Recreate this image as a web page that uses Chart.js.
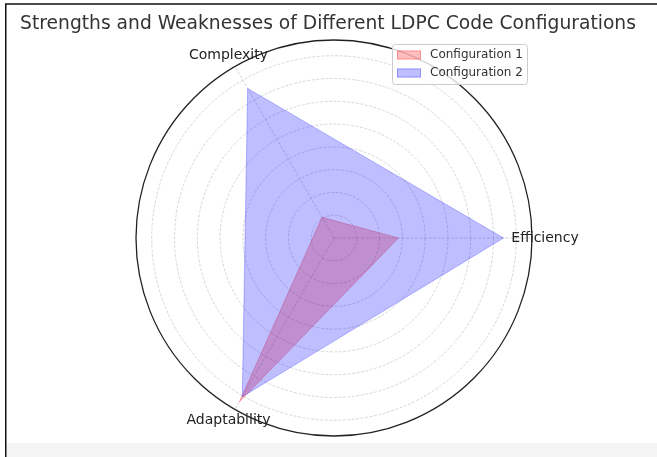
<!DOCTYPE html>
<html>
<head>
<meta charset="utf-8">
<script src="https://cdn.jsdelivr.net/npm/chart.js@4/dist/chart.umd.min.js"></script>
<style>
  html, body { margin: 0; padding: 0; background: #ffffff; }
  canvas { display: block; }
</style>
</head>
<body>
<canvas id="c" width="657" height="457"></canvas>
<script>
// ---- data (categories listed in clockwise drawing order, starting at the right) ----
const categories = ['Efficiency', 'Adaptability', 'Complexity'];
const config1 = [2.83, 8.3, 1.05];
const config2 = [7.44, 8.05, 7.58];
const seriesNames = ['Configuration 1', 'Configuration 2'];
const radialTicks = [0, 1, 2, 3, 4, 5, 6, 7, 8];
const rMax = 8.69;
const titleText = 'Strengths and Weaknesses of Different LDPC Code Configurations';

const FONT = '"DejaVu Sans", sans-serif';

const decor = {
  id: 'decor',
  beforeDraw(chart) {
    const ctx = chart.ctx;
    ctx.save();
    ctx.fillStyle = '#ffffff';
    ctx.fillRect(0, 0, chart.width, chart.height);
    ctx.fillStyle = '#f5f5f5';
    ctx.fillRect(7, 443, chart.width - 7, chart.height - 443);
    ctx.strokeStyle = '#111';
    ctx.lineWidth = 1.5;
    ctx.beginPath();
    ctx.moveTo(5.75, chart.height);
    ctx.lineTo(5.75, 4);
    ctx.lineTo(chart.width, 4);
    ctx.stroke();
    ctx.restore();
  },
  afterDraw(chart) {
    const ctx = chart.ctx;
    const scale = chart.scales.r;
    ctx.save();
    // title
    ctx.fillStyle = '#333333';
    ctx.font = '18.7px ' + FONT;
    ctx.textAlign = 'center';
    ctx.textBaseline = 'middle';
    ctx.fillText(titleText, 328, 24);
    // category labels
    ctx.font = '14px ' + FONT;
    ctx.fillStyle = '#222222';
    chart.data.labels.forEach((lab, i) => {
      const p = scale.getPointPosition(i, scale.drawingArea + 13);
      ctx.fillText(lab, p.x, p.y);
    });
    // legend
    const bx = 392, by = 44, bw = 135, bh = 40;
    ctx.fillStyle = 'rgba(255,255,255,0.8)';
    ctx.strokeStyle = '#cccccc';
    ctx.lineWidth = 1;
    ctx.beginPath();
    ctx.roundRect(bx + 0.5, by + 0.5, bw, bh, 3);
    ctx.fill();
    ctx.stroke();
    ctx.font = '12px ' + FONT;
    ctx.textAlign = 'left';
    chart.data.datasets.forEach((ds, i) => {
      const y = 55 + i * 18;
      ctx.fillStyle = ds.backgroundColor;
      ctx.fillRect(397, y - 4.5, 24, 9);
      ctx.strokeStyle = ds.borderColor;
      ctx.strokeRect(397.5, y - 4, 23, 8);
      ctx.fillStyle = '#333333';
      ctx.fillText(ds.label, 430, y);
    });
    ctx.restore();
  }
};

new Chart(document.getElementById('c'), {
  type: 'radar',
  data: {
    labels: categories,
    datasets: [
      {
        label: seriesNames[0],
        data: config1,
        backgroundColor: 'rgba(255,0,0,0.25)',
        borderColor: 'rgba(255,0,0,0.25)',
        borderWidth: 1,
        pointRadius: 0,
        fill: true,
        order: 2
      },
      {
        label: seriesNames[1],
        data: config2,
        backgroundColor: 'rgba(0,0,255,0.25)',
        borderColor: 'rgba(0,0,255,0.25)',
        borderWidth: 1,
        pointRadius: 0,
        fill: true,
        order: 1
      }
    ]
  },
  options: {
    responsive: false,
    animation: false,
    devicePixelRatio: 1,
    layout: { padding: { left: 136, right: 125, top: 40, bottom: 21 } },
    elements: { line: { tension: 0 } },
    plugins: {
      legend: { display: false },
      title: { display: false },
      tooltip: { enabled: false }
    },
    scales: {
      r: {
        min: 0,
        max: rMax,
        startAngle: 90,
        afterBuildTicks: (s) => {
          s.ticks = radialTicks.map(v => ({ value: v })).concat([{ value: rMax }]);
        },
        ticks: { display: false },
        pointLabels: { display: false },
        angleLines: {
          display: true,
          color: 'rgba(195,195,195,0.85)',
          lineWidth: 0.8,
          borderDash: [3, 1.5]
        },
        grid: {
          circular: true,
          color: (c) => (c.tick && c.tick.value === rMax) ? '#222222' : 'rgba(195,195,195,0.85)',
          lineWidth: (c) => (c.tick && c.tick.value === rMax) ? 1.3 : 0.8
        },
        border: {
          dash: (c) => (c.tick && c.tick.value === rMax) ? [] : [3, 1.5]
        }
      }
    }
  },
  plugins: [decor]
});
</script>
</body>
</html>
